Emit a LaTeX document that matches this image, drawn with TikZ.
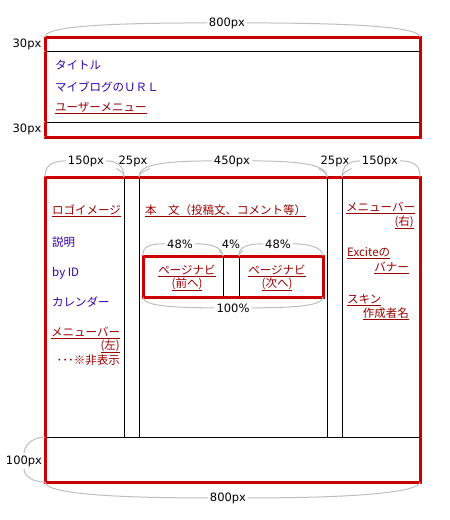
\documentclass[tikz,border=0pt]{standalone}
\usepackage{fontspec}
\setmainfont{DejaVu Sans}
\newfontfamily\jpfont{Noto Sans CJK JP}
\usetikzlibrary{positioning,calc}
\definecolor{boxred}{RGB}{204,0,0}
\definecolor{linkred}{RGB}{153,0,0}
\definecolor{textblue}{RGB}{51,0,170}
\definecolor{dimgray}{RGB}{190,190,190}

\begin{document}
\begin{tikzpicture}[x=1pt,y=1pt,
    redbox/.style={draw=boxred,line width=3pt},
    rule/.style={draw=black,line width=1pt},
    dim/.style={draw=dimgray,line width=1pt},
    dimtext/.style={inner sep=2pt,font=\fontsize{11.5}{13}\selectfont},
    jtext/.style={inner sep=0pt,text=textblue,font=\jpfont\fontsize{11.5}{13}\selectfont},
    jlink/.style={jtext,text=linkred}]
    \useasboundingbox (0,0) rectangle (450,-520);

    \coordinate (HL) at (45,-37);
    \coordinate (HR) at (420,-37);
    \coordinate (HA) at (45,-51);
    \coordinate (HB) at (45,-122);
    \coordinate (HBL) at (45,-137);
    \coordinate (HBR) at (420,-137);
    \coordinate (M0) at (45,-177);
    \coordinate (M1) at (124,-177);
    \coordinate (M2) at (139,-177);
    \coordinate (M3) at (327,-177);
    \coordinate (M4) at (342,-177);
    \coordinate (M5) at (420,-177);
    \coordinate (F0) at (45,-437);
    \coordinate (F1) at (45,-482);
    \coordinate (F2) at (420,-482);
    \coordinate (P0) at (143,-256);
    \coordinate (P1) at (223,-256);
    \coordinate (P2) at (239,-256);
    \coordinate (P3) at (323,-256);
    \coordinate (P4) at (143,-297);
    \coordinate (P5) at (323,-297);

    \draw[rule] (45,-51) -- (420,-51) (45,-122) -- (420,-122);
    \foreach \x in {124,139,327,342}
        \draw[rule] (\x,-177) -- (\x,-437);
    \draw[rule] (F0) -- (420,-437);
    \draw[rule] (P1) -- (223,-297) (P2) -- (239,-297);
    \draw[redbox] (HL) rectangle (HBR);
    \draw[redbox] (M0) rectangle (F2);
    \draw[redbox] (P0) rectangle (P5);

    \node[jtext,anchor=base west] (T1) at (55,-69) {タイトル};
    \node[jtext,anchor=base west] (T2) at (55,-91) {マイブログのＵＲＬ};
    \node[jlink,anchor=base west] (T3) at (55,-111) {\underline{ユーザーメニュー}};

    \node[jlink,anchor=base west] (L1) at (52,-214) {\underline{ロゴイメージ}};
    \node[jtext,anchor=base west] (L2) at (52,-246) {説明};
    \node[jtext,anchor=base west] (L3) at (52,-276) {by ID};
    \node[jtext,anchor=base west] (L4) at (52,-306) {カレンダー};
    \node[jlink,anchor=base west] (L5) at (51,-336) {\underline{メニューバー}};
    \node[jlink,anchor=base east] (L6) at (120,-349) {\underline{(左)}};
    \node[jlink,anchor=base east] (L7) at (120,-364) {･･･※非表示};

    \node[jlink,anchor=base west] (C1) at (145,-214) {\underline{本　文（投稿文、コメント等）}};
    \node[jlink,anchor=base] (N1) at (187,-274) {\underline{ページナビ}};
    \node[jlink,anchor=base] (N2) at (187,-287) {\underline{(前へ)}};
    \node[jlink,anchor=base] (N3) at (277,-274) {\underline{ページナビ}};
    \node[jlink,anchor=base] (N4) at (277,-287) {\underline{(次へ)}};

    \node[jlink,anchor=base west] (R1) at (346,-211) {\underline{メニューバー}};
    \node[jlink,anchor=base east] (R2) at (414,-225) {\underline{(右)}};
    \node[jlink,anchor=base west] (R3) at (347,-256) {\underline{Exciteの}};
    \node[jlink,anchor=base east] (R4) at (409,-271) {\underline{バナー}};
    \node[jlink,anchor=base west] (R5) at (347,-303) {\underline{スキン}};
    \node[jlink,anchor=base east] (R6) at (409,-317) {\underline{作成者名}};

    \node[dimtext,anchor=base] (D1) at (227,-26) {800px};
    \node[dimtext,anchor=base] (D2) at (27,-47) {30px};
    \node[dimtext,anchor=base] (D3) at (27,-132) {30px};
    \node[dimtext,anchor=base] (D4) at (86,-164) {150px};
    \node[dimtext,anchor=base] (D5) at (133,-164) {25px};
    \node[dimtext,anchor=base] (D6) at (232,-164) {450px};
    \node[dimtext,anchor=base] (D7) at (335,-164) {25px};
    \node[dimtext,anchor=base] (D8) at (380,-164) {150px};
    \node[dimtext,anchor=base] (D9) at (180,-248) {48\%};
    \node[dimtext,anchor=base] (D10) at (231,-248) {4\%};
    \node[dimtext,anchor=base] (D11) at (278,-248) {48\%};
    \node[dimtext,anchor=base] (D12) at (233,-312) {100\%};
    \node[dimtext,anchor=base] (D13) at (24,-464) {100px};
    \node[dimtext,anchor=base] (D14) at (228,-501) {800px};

    \draw[dim] (D1.west) .. controls +(-130,0) and +(0,8) .. (HL);
    \draw[dim] (D1.east) .. controls +(130,0) and +(0,8) .. (HR);
    \draw[dim] (D2.north east) to[out=20,in=200] (HL);
    \draw[dim] (D2.south east) to[out=-20,in=160] (HA);
    \draw[dim] (D3.north east) to[out=20,in=200] (HB);
    \draw[dim] (D3.south east) to[out=-20,in=160] (HBL);
    \draw[dim] (D4.west) .. controls +(-16,0) and +(0,10) .. (M0);
    \draw[dim] (D4.east) .. controls +(12,0) and +(0,10) .. (M1);
    \draw[dim] (D5.south west) .. controls +(3,-2) and +(0,5) .. (M1);
    \draw[dim] (D5.south east) .. controls +(-3,-2) and +(0,5) .. (M2);
    \draw[dim] (D6.west) .. controls +(-60,0) and +(0,10) .. (M2);
    \draw[dim] (D6.east) .. controls +(60,0) and +(0,10) .. (M3);
    \draw[dim] (D7.south west) .. controls +(3,-2) and +(0,5) .. (M3);
    \draw[dim] (D7.south east) .. controls +(-3,-2) and +(0,5) .. (M4);
    \draw[dim] (D8.west) .. controls +(-12,0) and +(0,10) .. (M4);
    \draw[dim] (D8.east) .. controls +(16,0) and +(0,10) .. (M5);
    \draw[dim] (D9.west) .. controls +(-22,0) and +(0,6) .. (P0);
    \draw[dim] (D9.east) .. controls +(22,0) and +(0,6) .. (P1);
    \draw[dim] (D10.south west) .. controls +(-2,-1) and +(0,4) .. (P1);
    \draw[dim] (D10.south east) .. controls +(2,-1) and +(0,4) .. (P2);
    \draw[dim] (D11.west) .. controls +(-22,0) and +(0,6) .. (P2);
    \draw[dim] (D11.east) .. controls +(22,0) and +(0,6) .. (P3);
    \draw[dim] (D12.west) .. controls +(-55,0) and +(0,-7) .. (P4);
    \draw[dim] (D12.east) .. controls +(55,0) and +(0,-7) .. (P5);
    \draw[dim] (D13.north) .. controls +(0,8) and +(-12,0) .. (F0);
    \draw[dim] (D13.south) .. controls +(0,-8) and +(-12,0) .. (F1);
    \draw[dim] (D14.west) .. controls +(-130,0) and +(0,-8) .. (F1);
    \draw[dim] (D14.east) .. controls +(130,0) and +(0,-8) .. (F2);
\end{tikzpicture}
\end{document}
